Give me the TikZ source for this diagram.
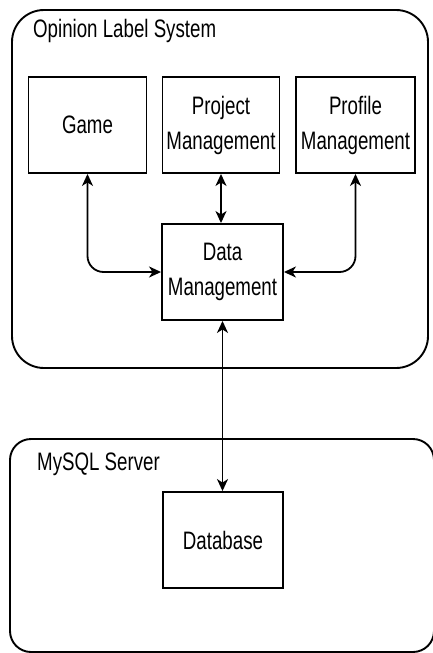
\documentclass[tikz,border=0pt]{standalone}
\usepackage{fontspec}
\usepackage{graphicx}
\setmainfont{Liberation Sans}
\usetikzlibrary{arrows.meta}
\newcommand{\vst}[1]{\scalebox{1}[1.35]{#1}}
\begin{document}
\begin{tikzpicture}[x=1pt,y=-1pt,
  container/.style={draw,line width=1.9pt},
  blockbox/.style={draw,line width=1.9pt,minimum height=96pt,inner sep=0pt,align=center,
    font=\fontsize{18.7}{35}\selectfont},
  titletext/.style={anchor=west,inner sep=0pt,font=\fontsize{18.7}{22}\selectfont},
  arr/.style={line width=1.8pt,{Stealth[length=12pt,width=11pt,inset=3.5pt]}-{Stealth[length=12pt,width=11pt,inset=3.5pt]}}]
\useasboundingbox (0,0) rectangle (432,653);
% containers
\draw[container,rounded corners=32pt] (12,10) rectangle (428,368);
\draw[container,rounded corners=21pt] (10,439) rectangle (434,652);
\node[titletext] (t1) at (33,31) {\vst{Opinion Label System}};
\node[titletext] (t2) at (37,464) {\vst{MySQL Server}};
% blocks
\node[blockbox,minimum width=118pt] (game) at (87.5,125) {\vst{Game}};
\node[blockbox,minimum width=117pt] (proj) at (221,125) {\vst{Project}\\\vst{Management}};
\node[blockbox,minimum width=119pt] (prof) at (355.5,125) {\vst{Profile}\\\vst{Management}};
\node[blockbox,minimum width=121pt] (data) at (222.5,272) {\vst{Data}\\\vst{Management}};
\node[blockbox,minimum width=120pt] (db) at (223,540) {\vst{Database}};
% connectors
\draw[arr,rounded corners=16pt] (game.south) |- (data.west);
\draw[arr,rounded corners=16pt] (prof.south) |- (data.east);
\draw[arr] (proj.south) -- (proj.south |- data.north);
\draw[arr] (data.south) -- (data.south |- db.north);
\end{tikzpicture}
\end{document}
